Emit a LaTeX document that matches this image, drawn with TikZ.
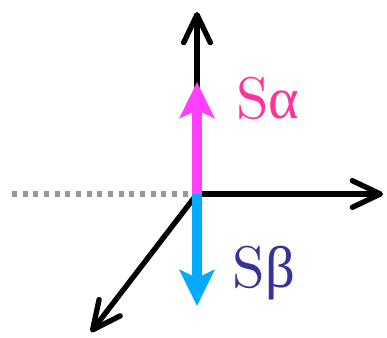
\documentclass[tikz,border=0pt]{standalone}
\usepackage{fontspec}
\usepackage{tikz}
\usetikzlibrary{arrows.meta}
\newfontfamily\grkfont{Liberation Serif}
\definecolor{spinup}{RGB}{255,64,255}
\definecolor{spindown}{RGB}{0,170,255}
\definecolor{uptext}{RGB}{255,51,153}
\definecolor{downtext}{RGB}{51,51,153}
\tikzset{
  axis/.style={line width=4pt,-{Straight Barb[length=21pt,width=20pt,line cap=round,line join=round]}},
  spin/.style={line width=7pt,-{Stealth[length=27pt,width=26pt,inset=6pt]}},
  lbl/.style={font=\fontsize{10}{12}\selectfont,scale=4.4}
}
\begin{document}
\begin{tikzpicture}[x=.75pt,y=-.75pt]
\useasboundingbox (0,0) rectangle (387,337);
\coordinate (o) at (197,194);
\coordinate (zt) at (197,12);
\coordinate (xt) at (383,194);
\coordinate (yt) at (91,332);
\coordinate (lf) at (12,194);
\coordinate (at) at (197,82);
\coordinate (bt) at (197,306);
\draw[gray!80,line width=3.8pt,dash pattern=on 3.8pt off 4.2pt] (lf)--(o);
\draw[axis] (o)--(zt);\draw[axis] (o)--(xt);\draw[axis] (o)--(yt);
\draw[spin,spinup] (o)--(at);\draw[spin,spindown] (o)--(bt);
\node[lbl,text=uptext] (sa) at (268,98) {S{\grkfont α}};
\node[lbl,text=downtext] (sb) at (264,273) {S{\grkfont β}};
\end{tikzpicture}
\end{document}
